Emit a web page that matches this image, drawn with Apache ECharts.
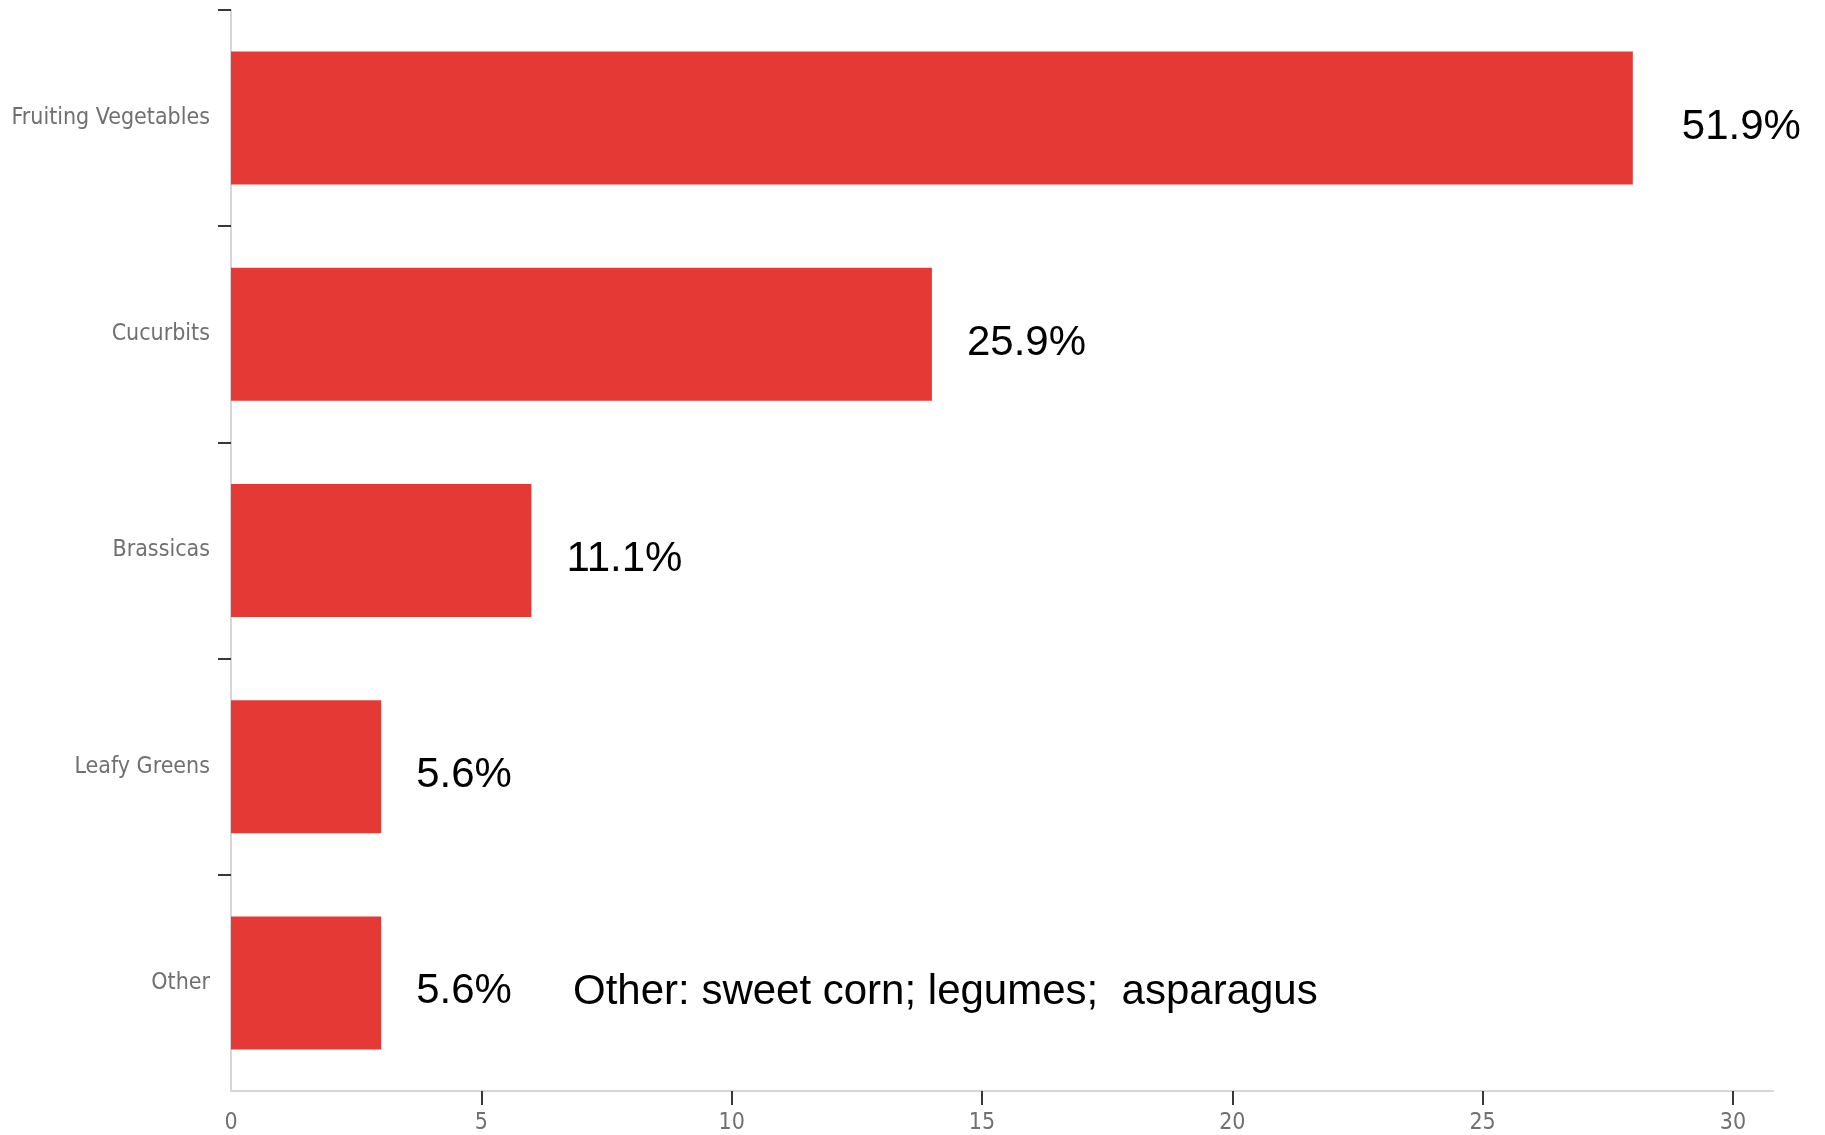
<!DOCTYPE html>
<html>
<head>
<meta charset="utf-8">
<title>Crop groups</title>
<script src="https://cdn.jsdelivr.net/npm/echarts@6/dist/echarts.min.js"></script>
<style>
  html, body { margin: 0; padding: 0; background: #ffffff; }
  #chart { width: 1825px; height: 1135px; }
</style>
</head>
<body>
<div id="chart"></div>
<script>
// Crop groups, top to bottom
const categories = ['Fruiting Vegetables', 'Cucurbits', 'Brassicas', 'Leafy Greens', 'Other'];
// Number of responses per crop group
const counts = [28, 14, 6, 3, 3];
// Value-axis ticks and labels
const xTickValues = [0, 5, 10, 15, 20, 25, 30];
const xTickMarks = [5, 10, 15, 20, 25, 30];
const noteText = 'Other: sweet corn; legumes;  asparagus';

const total = counts.reduce((a, b) => a + b, 0);
const pct = v => (v / total * 100).toFixed(1) + '%';

const labelFont = '"DejaVu Sans Condensed", "DejaVu Sans", sans-serif';
const valueFont = '"Liberation Sans", Arial, sans-serif';

// Category separators: top edge and between groups (none at the bottom edge)
const bandEdges = categories.map((c, i) => i);

const chart = echarts.init(document.getElementById('chart'), null, { renderer: 'canvas' });

const barData = counts.map((v, i) => {
  const item = { value: v };
  if (i === 0) item.label = { distance: 49 };
  return item;
});

const tickStyle = { color: '#222222', width: 1.8 };

chart.setOption({
  backgroundColor: '#ffffff',
  animation: false,
  grid: { left: 231, right: 52, top: 10, bottom: 42 },
  xAxis: {
    type: 'value',
    position: 'bottom',
    min: 0,
    max: 30.8,
    axisLine: { show: true, onZero: false, lineStyle: { color: '#d6d6d6', width: 2 } },
    axisTick: {
      show: true,
      length: 14,
      customValues: xTickMarks,
      lineStyle: tickStyle
    },
    axisLabel: {
      customValues: xTickValues,
      margin: 21,
      color: '#707070',
      fontSize: 23,
      fontFamily: labelFont
    },
    splitLine: { show: false }
  },
  yAxis: [{
    type: 'category',
    data: categories,
    inverse: true,
    position: 'left',
    axisLine: { show: true, onZero: false, lineStyle: { color: '#d6d6d6', width: 2 } },
    axisTick: { show: false },
    axisLabel: {
      margin: 21,
      color: '#707070',
      fontSize: 23,
      fontFamily: labelFont
    }
  }, {
    // band separators drawn as ticks on a parallel index axis
    type: 'value',
    position: 'left',
    min: 0,
    max: categories.length,
    inverse: true,
    axisLine: { show: false, onZero: false },
    axisLabel: { show: false },
    splitLine: { show: false },
    axisTick: {
      show: true,
      length: 13,
      customValues: bandEdges,
      lineStyle: tickStyle
    }
  }],
  series: [{
    type: 'bar',
    yAxisIndex: 0,
    data: barData,
    barWidth: 133,
    itemStyle: { color: '#e53935' },
    label: {
      show: true,
      position: 'right',
      distance: 35,
      offset: [0, 9],
      color: '#000000',
      fontSize: 42,
      fontFamily: valueFont,
      formatter: p => pct(p.value)
    }
  }]
});

// Note explaining the "Other" group, aligned with its bar
const noteY = chart.convertToPixel({ yAxisIndex: 0 }, 'Other') + 10;
chart.setOption({
  graphic: [{
    type: 'text',
    x: 573,
    y: noteY,
    style: {
      text: noteText,
      fill: '#000000',
      fontSize: 42,
      fontFamily: valueFont,
      verticalAlign: 'middle',
      align: 'left'
    }
  }]
});
</script>
</body>
</html>
